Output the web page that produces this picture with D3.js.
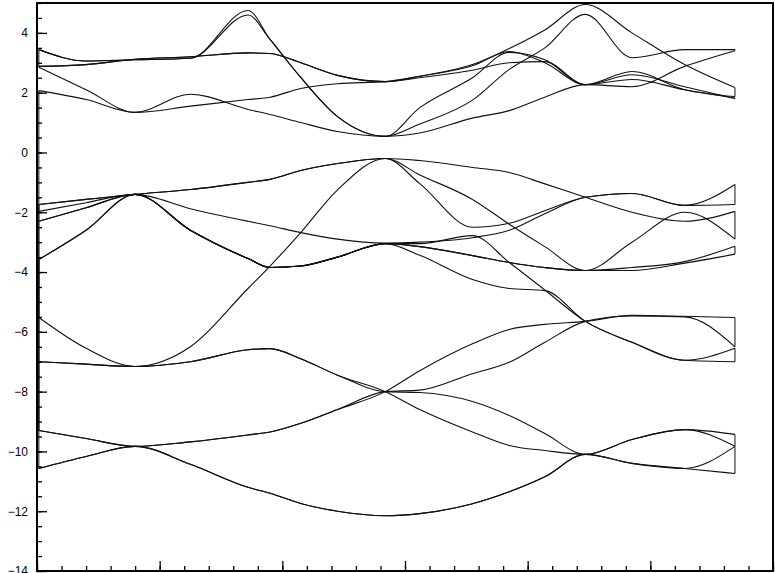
<!DOCTYPE html>
<html>
<head>
<meta charset="utf-8">
<title>Band structure</title>
<script src="https://d3js.org/d3.v7.min.js"></script>
<style>
  body { margin: 0; background: #fff; }
  text { font-family: "Liberation Sans", Arial, sans-serif; }
</style>
</head>
<body>
<script>
// k-path positions shared by every band
var kPoints = [0.015, 0.4, 0.8, 1.25, 1.72, 1.9, 2.15, 2.45, 2.84, 3.12, 3.55, 3.85, 4.14, 4.47, 4.85, 5.28, 5.69];

// lowest bands
var L1  = [-10.57, -10.17, -9.83, -10.43, -11.2, -11.4, -11.74, -12.0, -12.15, -12.08, -11.75, -11.35, -10.85, -10.1, -10.4, -10.57, -10.74];
var L1b = [-10.57, -10.17, -9.83, -10.43, -11.2, -11.4, -11.74, -12.0, -12.15, -12.08, -11.75, -11.35, -10.85, -10.1, -10.4, -10.57, -9.83];
var LD  = [-7.0, -7.08, -7.16, -7.0, -6.6, -6.56, -6.9, -7.45, -8.0, -8.03, -8.33, -8.8, -9.4, -10.1, -9.6, -9.27, -9.83];
var LB  = [-7.0, -7.08, -7.16, -7.0, -6.6, -6.56, -6.9, -7.45, -8.0, -8.6, -9.35, -9.8, -9.97, -10.1, -9.6, -9.27, -9.43];
var LA  = [-9.3, -9.57, -9.83, -9.68, -9.45, -9.35, -9.06, -8.6, -8.0, -7.3, -6.4, -5.92, -5.75, -5.65, -5.45, -5.48, -5.52];
var LC  = [-9.3, -9.57, -9.83, -9.68, -9.45, -9.35, -9.06, -8.6, -8.0, -7.95, -7.4, -7.02, -6.35, -5.65, -5.47, -5.5, -6.5];

// middle bands
var M4  = [-3.58, -2.6, -1.4, -2.6, -3.55, -3.85, -3.8, -3.5, -3.05, -3.05, -2.78, -3.68, -4.6, -5.65, -6.35, -6.95, -7.0];
var M5  = [-3.58, -2.6, -1.4, -2.6, -3.55, -3.85, -3.8, -3.5, -3.05, -3.44, -4.25, -4.55, -4.62, -5.65, -6.35, -6.95, -6.55];
var M3b = [-2.3, -1.85, -1.4, -2.6, -3.55, -3.85, -3.8, -3.5, -3.05, -3.15, -3.45, -3.68, -3.85, -3.95, -3.95, -3.7, -3.4];
var M3  = [-2.3, -1.85, -1.4, -2.6, -3.55, -3.85, -3.8, -3.5, -3.05, -3.15, -3.45, -3.68, -3.85, -3.95, -3.85, -3.65, -3.14];
var M1b = [-1.74, -1.57, -1.4, -1.24, -1.0, -0.9, -0.6, -0.37, -0.2, -0.75, -1.57, -2.4, -3.15, -3.95, -3.0, -2.0, -2.9];
var M1  = [-1.74, -1.57, -1.4, -1.24, -1.0, -0.9, -0.6, -0.37, -0.2, -0.27, -0.5, -0.67, -1.05, -1.5, -2.0, -2.3, -1.97];
var M2  = [-1.97, -1.68, -1.4, -1.88, -2.3, -2.45, -2.68, -2.9, -3.03, -3.0, -2.85, -2.6, -2.05, -1.5, -1.37, -1.77, -1.74];
var MU  = [-5.52, -6.55, -7.16, -6.5, -4.55, -3.8, -2.68, -1.25, -0.2, -1.04, -2.5, -2.37, -1.95, -1.5, -1.37, -1.77, -1.07];

// upper bands
var T4  = [2.07, 1.77, 1.34, 1.55, 1.77, 1.85, 2.14, 2.3, 2.37, 2.55, 2.9, 3.38, 3.0, 2.27, 2.6, 2.2, 1.8];
var T2b = [2.88, 2.94, 3.12, 3.2, 3.33, 3.31, 3.0, 2.58, 2.37, 2.5, 2.75, 3.0, 3.04, 2.27, 2.44, 2.1, 1.82];
var T1b = [3.44, 3.06, 3.1, 3.15, 4.6, 3.78, 2.51, 1.2, 0.54, 1.5, 2.5, 3.35, 3.1, 2.27, 2.71, 2.1, 1.87];
var T2  = [2.88, 2.94, 3.12, 3.2, 3.33, 3.31, 3.0, 2.58, 2.37, 2.55, 2.94, 3.48, 4.1, 4.95, 4.0, 2.94, 2.17];
var T3  = [2.85, 2.1, 1.34, 1.95, 1.44, 1.27, 1.0, 0.7, 0.54, 0.65, 1.15, 1.4, 1.85, 2.27, 2.2, 2.88, 3.4];
var T1  = [3.44, 3.06, 3.1, 3.15, 4.75, 3.78, 2.51, 1.2, 0.54, 0.95, 1.75, 2.78, 3.5, 4.62, 3.17, 3.44, 3.44];

// plotting order (the original is one snake-like polyline)
var bands = [L1, L1b, LD, LB, M4, M5, LC, LA, M3b, M3, M1b, M1, M2, MU, T4, T2b, T1b, T2, T3, T1];

var yTickLabels = [4, 2, 0, -2, -4, -6, -8, -10, -12, -14];

var width = 775;
var height = 573;

var svg = d3.select("body").append("svg").attr("width", width).attr("height", height);

var xScale = d3.scaleLinear().domain([0, 6]).range([37, 773]);
var yScale = d3.scaleLinear().domain([-14, 5]).range([571, 3]);

var line = d3.line()
  .x(function(d) { return xScale(d[0]); })
  .y(function(d) { return yScale(d[1]); })
  .curve(d3.curveMonotoneX);

var plot = svg.append("g");

plot.selectAll("path.band")
  .data(bands)
  .enter()
  .append("path")
  .attr("class", "band")
  .attr("d", function(b) { return line(b.map(function(v, i) { return [kPoints[i], v]; })); })
  .attr("fill", "none")
  .attr("stroke", "#111")
  .attr("stroke-width", 1.1);

// end connectors of the snake: right ends for even pairs, left ends for odd
var last = kPoints.length - 1;
var connectors = [];
for (var i = 0; i < bands.length - 1; i++) {
  var j = (i % 2 === 0) ? last : 0;
  connectors.push([[kPoints[j], bands[i][j]], [kPoints[j], bands[i + 1][j]]]);
}
plot.selectAll("path.conn")
  .data(connectors)
  .enter()
  .append("path")
  .attr("class", "conn")
  .attr("d", d3.line().x(function(d) { return xScale(d[0]); }).y(function(d) { return yScale(d[1]); }))
  .attr("fill", "none")
  .attr("stroke", "#111")
  .attr("stroke-width", 1);

// y axis, ticks inward
var yMinor = svg.append("g").attr("transform", "translate(37,0)")
  .call(d3.axisLeft(yScale).tickValues(d3.range(-14, 5.01, 0.5)).tickSize(-5).tickFormat(""));
var yMajor = svg.append("g").attr("transform", "translate(37,0)")
  .call(d3.axisLeft(yScale).tickValues(yTickLabels).tickSizeInner(-10).tickSizeOuter(0).tickPadding(9));

// x axis, ticks inward, no labels
var xMinor = svg.append("g").attr("transform", "translate(0,571)")
  .call(d3.axisBottom(xScale).tickValues(d3.range(0, 6.001, 0.2)).tickSize(-5).tickFormat(""));
var xMajor = svg.append("g").attr("transform", "translate(0,571)")
  .call(d3.axisBottom(xScale).tickValues(d3.range(0, 7, 1)).tickSizeInner(-10).tickSizeOuter(0).tickFormat(""));

svg.selectAll(".domain").attr("stroke", "none");
svg.selectAll(".tick line").attr("stroke", "#000").attr("stroke-width", 1.3);
yMajor.selectAll("text").attr("font-size", 12).attr("fill", "#000");

// frame
svg.append("rect")
  .attr("x", 37).attr("y", 3)
  .attr("width", 736).attr("height", 568)
  .attr("fill", "none")
  .attr("stroke", "#000")
  .attr("stroke-width", 2);
</script>
</body>
</html>
